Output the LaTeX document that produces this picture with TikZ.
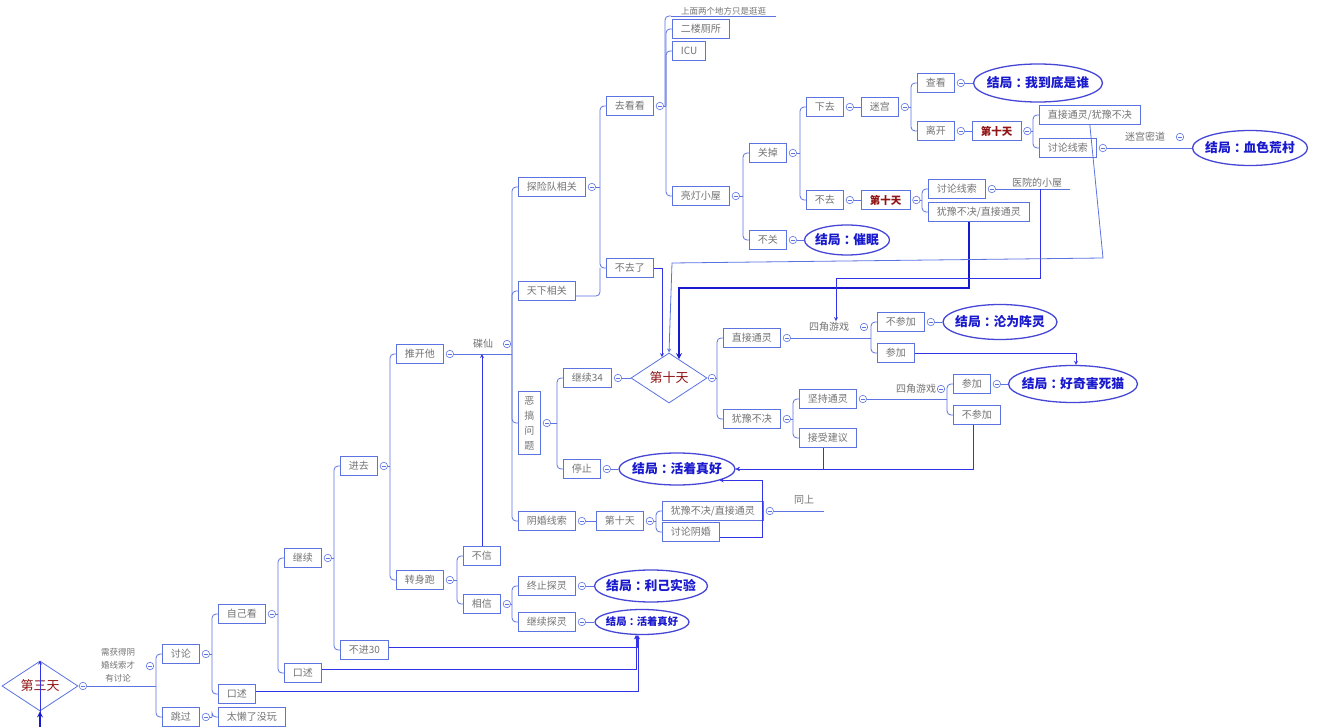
\documentclass[tikz,border=0pt]{standalone}
\usepackage{fontspec}
\setmainfont{Noto Sans CJK SC}
\usepackage{tikz}
\usetikzlibrary{positioning, shapes.geometric, arrows.meta}
\usepackage{xcolor}

\definecolor{lineblue}{RGB}{92,115,225}
\definecolor{txtgray}{RGB}{115,115,115}
\definecolor{dayred}{RGB}{145,20,20}
\definecolor{endblue}{RGB}{25,25,205}
\definecolor{relblue}{RGB}{50,50,230}

% spine from a fold circle to one child
\newcommand{\twig}[2]{%
  \path ([xshift=-6pt]#2) coordinate (sp);
  \draw[branch] (#1) -- (#1 -| sp);
  \draw[branch, rounded corners=4pt] (#1 -| sp) |- (#2);}
\newcommand{\nowidth}[1]{\makebox[0pt]{#1}}
\newcommand{\outcome}[1]{\makebox[0pt]{结局\kern.25em：\kern-.25em#1}}

\begin{document}
\begin{tikzpicture}[x=1pt, y=-1pt,
    topic/.style={draw=lineblue, line width=0.8pt, fill=white, text=txtgray, inner xsep=8.5pt, inner ysep=0pt, minimum height=19.5pt, font=\fontsize{10}{12}\selectfont},
    daybox/.style={topic, text=dayred, font=\bfseries\fontsize{10.5}{12}\selectfont},
    bigday/.style={diamond, draw=lineblue, line width=0.8pt, fill=white, text=dayred, inner sep=0pt, minimum width=76pt, minimum height=50pt, font=\fontsize{13}{15}\selectfont},
    ending/.style={ellipse, draw=endblue!80!white, line width=1.3pt, fill=white, text=endblue, inner sep=0pt, font=\bfseries\fontsize{12.8}{15}\selectfont},
    linetext/.style={text=txtgray, inner sep=1pt, font=\fontsize{10}{12}\selectfont},
    fold/.style={circle, draw=lineblue, line width=0.6pt, fill=white, minimum size=7.5pt, inner sep=0pt,
        path picture={\draw[lineblue, line width=0.6pt] ([xshift=1.8pt]path picture bounding box.west) -- ([xshift=-1.8pt]path picture bounding box.east);}},
    branch/.style={draw=lineblue, line width=0.8pt},
    link/.style={->, >=stealth, draw=relblue, line width=0.8pt},
    boldlink/.style={link, line width=1.6pt, draw=endblue}
]
    \useasboundingbox (0,0) rectangle (1320,727);
    \fill[white] (0,0) rectangle (1320,727);

    % Day three root
    \node[bigday] (d3) at (40,686) {\nowidth{第三天}};
    \node[fold, right=0.5pt of d3] (d3-f) {};
    \node[linetext, align=center, font=\fontsize{8.5}{13}\selectfont] (need) at (118,665) {需获得阴\\婚线索才\\有讨论};
    \node[fold] (need-f) at (150,666) {};
    \node[topic, anchor=west] (tl) at (162,654) {讨论};
    \node[topic, anchor=west] (tg) at (162,717) {跳过};
    \twig{d3-f.east}{tl.west}
    \twig{d3-f.east}{tg.west}
    \node[fold, right=2pt of tl] (tl-f) {};
    \node[fold, right=2pt of tg] (tg-f) {};
    \node[topic, anchor=west] (lazy) at (218,717) {太懒了没玩};
    \twig{tg-f.east}{lazy.west}

    % Discussion branch
    \node[topic, anchor=west] (zjk) at (218,614) {自己看};
    \node[topic, anchor=west] (ks1) at (218,694) {口述};
    \twig{tl-f.east}{zjk.west}
    \twig{tl-f.east}{ks1.west}
    \node[fold, right=2pt of zjk] (zjk-f) {};
    \node[topic, anchor=west] (jx) at (284,558) {继续};
    \node[topic, anchor=west] (ks2) at (284,673) {口述};
    \twig{zjk-f.east}{jx.west}
    \twig{zjk-f.east}{ks2.west}
    \node[fold, right=2pt of jx] (jx-f) {};
    \node[topic, anchor=west] (jq) at (340,466) {进去};
    \node[topic, anchor=west] (bj30) at (340,650) {不进30};
    \twig{jx-f.east}{jq.west}
    \twig{jx-f.east}{bj30.west}
    \node[fold, right=2pt of jq] (jq-f) {};
    \node[topic, anchor=west] (tkt) at (396,354) {推开他};
    \node[topic, anchor=west] (zsp) at (396,580) {转身跑};
    \twig{jq-f.east}{tkt.west}
    \twig{jq-f.east}{zsp.west}
    \node[fold, right=2pt of tkt] (tkt-f) {};
    \node[fold, right=2pt of zsp] (zsp-f) {};

    % Run away
    \node[topic, anchor=west] (bx) at (463,556) {不信};
    \node[topic, anchor=west] (xx) at (463,604) {相信};
    \twig{zsp-f.east}{bx.west}
    \twig{zsp-f.east}{xx.west}
    \node[fold, right=2pt of xx] (xx-f) {};
    \node[topic, anchor=west] (zz) at (518,586) {终止探灵};
    \node[topic, anchor=west] (jt) at (518,622) {继续探灵};
    \twig{xx-f.east}{zz.west}
    \twig{xx-f.east}{jt.west}
    \node[fold, right=2pt of zz] (zz-f) {};
    \node[fold, right=2pt of jt] (jt-f) {};
    \node[ending, minimum width=113pt, minimum height=32pt] (lj) at (651,586) {\outcome{利己实验}};
    \node[ending, minimum width=94pt, minimum height=25pt, font=\bfseries\fontsize{10.3}{12}\selectfont] (hz2) at (642,622) {\outcome{活着真好}};
    \draw[branch] (zz-f.east) -- (lj.west);
    \draw[branch] (jt-f.east) -- (hz2.west);

    % Ouija board
    \node[linetext] (dx) at (483,344) {碟仙};
    \node[fold] (dx-f) at (507,344) {};
    \node[topic, anchor=west] (txd) at (518,187) {探险队相关};
    \node[topic, anchor=west] (txx) at (518,291) {天下相关};
    \node[topic, anchor=west, align=center, minimum height=63pt, inner xsep=6pt, font=\fontsize{10}{15}\selectfont] (eg) at (518,423) {恶\\搞\\问\\题};
    \node[topic, anchor=west] (yhxs) at (518,521) {阴婚线索};
    \foreach \c in {txd,txx,eg,yhxs} {\twig{tkt-f.east}{\c.west}}
    \node[fold, right=2pt of txd] (txd-f) {};
    \node[fold, right=2pt of eg] (eg-f) {};
    \node[fold, right=2pt of yhxs] (yhxs-f) {};

    % Expedition team
    \node[topic, anchor=west] (qkk) at (606,106) {去看看};
    \node[topic, anchor=west] (bql) at (606,268) {不去了};
    \twig{txd-f.east}{qkk.west}
    \twig{txd-f.east}{bql.west}
    \draw[branch, rounded corners=4pt] ([yshift=-5pt]txx.east) -| ([xshift=-6pt]bql.west);
    \node[fold, right=2pt of qkk] (qkk-f) {};
    \node[linetext, anchor=south west, inner xsep=10pt, font=\fontsize{8.5}{10}\selectfont] (guang) at (671,16) {上面两个地方只是逛逛};
    \node[topic, anchor=west] (elcs) at (672,29) {二楼厕所};
    \node[topic, anchor=west] (icu) at (672,51) {ICU};
    \node[topic, anchor=west] (ldxw) at (672,196) {亮灯小屋};
    \twig{qkk-f.east}{guang.south west}
    \draw[branch] (guang.south west) -- (guang.south east);
    \foreach \c in {elcs,icu,ldxw} {\twig{qkk-f.east}{\c.west}}
    \node[fold, right=2pt of ldxw] (ldxw-f) {};

    % Lit cabin
    \node[topic, anchor=west] (gd) at (749,153) {关掉};
    \node[topic, anchor=west] (bg) at (749,240) {不关};
    \twig{ldxw-f.east}{gd.west}
    \twig{ldxw-f.east}{bg.west}
    \node[fold, right=2pt of gd] (gd-f) {};
    \node[fold, right=2pt of bg] (bg-f) {};
    \node[ending, minimum width=85pt, minimum height=30pt] (cm) at (847,240) {\outcome{催眠}};
    \draw[branch] (bg-f.east) -- (cm.west);
    \node[topic, anchor=west] (xq) at (806,107) {下去};
    \node[topic, anchor=west] (bq) at (806,200) {不去};
    \twig{gd-f.east}{xq.west}
    \twig{gd-f.east}{bq.west}
    \node[fold, right=2pt of xq] (xq-f) {};
    \node[fold, right=2pt of bq] (bq-f) {};
    \node[topic, anchor=west] (mg) at (861,107) {迷宫};
    \node[daybox, anchor=west] (d10b) at (861,200) {第十天};
    \draw[branch] (xq-f.east) -- (mg.west);
    \draw[branch] (bq-f.east) -- (d10b.west);
    \node[fold, right=2pt of mg] (mg-f) {};
    \node[fold, right=2pt of d10b] (d10b-f) {};

    % Maze
    \node[topic, anchor=west] (ck) at (917,83) {查看};
    \node[topic, anchor=west] (lk) at (917,131) {离开};
    \twig{mg-f.east}{ck.west}
    \twig{mg-f.east}{lk.west}
    \node[fold, right=2pt of ck] (ck-f) {};
    \node[fold, right=2pt of lk] (lk-f) {};
    \node[ending, minimum width=129pt, minimum height=38pt] (wdd) at (1038,83) {\outcome{我到底是谁}};
    \draw[branch] (ck-f.east) -- (wdd.west);
    \node[daybox, anchor=west] (d10a) at (972,131) {第十天};
    \draw[branch] (lk-f.east) -- (d10a.west);
    \node[fold, right=2pt of d10a] (d10a-f) {};
    \node[topic, anchor=west] (zj1) at (1039,115) {直接通灵/犹豫不决};
    \node[topic, anchor=west] (tx1) at (1039,148) {讨论线索};
    \twig{d10a-f.east}{zj1.west}
    \twig{d10a-f.east}{tx1.west}
    \node[fold, right=2pt of tx1] (tx1-f) {};
    \node[linetext] (mgmd) at (1145,137) {迷宫密道};
    \node[fold] (mgmd-f) at (1180,137) {};
    \node[ending, minimum width=115pt, minimum height=35pt] (hs) at (1250,148) {\outcome{血色荒村}};
    \draw[branch] (tx1-f.east) -- (hs.west);

    % Not going down
    \node[topic, anchor=west] (tx2) at (928,189) {讨论线索};
    \node[topic, anchor=west] (yd2) at (928,212) {犹豫不决/直接通灵};
    \twig{d10b-f.east}{tx2.west}
    \twig{d10b-f.east}{yd2.west}
    \node[fold, right=2pt of tx2] (tx2-f) {};
    \node[linetext, anchor=south west, inner xsep=0pt] (yy) at (1012,189) {医院的小屋};
    \draw[branch] (tx2-f.east) -- ([xshift=8pt]yy.south east);

    % Prank questions
    \node[topic, anchor=west] (jx34) at (563,378) {继续34};
    \node[topic, anchor=west] (tz) at (563,469) {停止};
    \twig{eg-f.east}{jx34.west}
    \twig{eg-f.east}{tz.west}
    \node[fold, right=2pt of jx34] (jx34-f) {};
    \node[fold, right=2pt of tz] (tz-f) {};
    \node[bigday] (d10) at (669,378) {\nowidth{第十天}};
    \draw[branch] (jx34-f.east) -- (d10.west);
    \node[fold, right=0.5pt of d10] (d10-f) {};
    \node[ending, minimum width=116pt, minimum height=32pt] (hz) at (677,469) {\outcome{活着真好}};
    \draw[branch] (tz-f.east) -- (hz.west);

    % Day ten
    \node[topic, anchor=west] (zjtl) at (723,338) {直接通灵};
    \node[topic, anchor=west] (ydbj) at (723,419) {犹豫不决};
    \twig{d10-f.east}{zjtl.west}
    \twig{d10-f.east}{ydbj.west}
    \node[fold, right=2pt of zjtl] (zjtl-f) {};
    \node[fold, right=2pt of ydbj] (ydbj-f) {};
    \node[linetext] (sj1) at (829,327) {四角游戏};
    \node[fold] (sj1-f) at (864,327) {};
    \node[topic, anchor=west] (bcj1) at (877,322) {不参加};
    \node[topic, anchor=west] (cj1) at (877,353) {参加};
    \twig{zjtl-f.east}{bcj1.west}
    \twig{zjtl-f.east}{cj1.west}
    \node[fold, right=2pt of bcj1] (bcj1-f) {};
    \node[ending, minimum width=114pt, minimum height=35pt] (lw) at (1000,322) {\outcome{沦为阵灵}};
    \draw[branch] (bcj1-f.east) -- (lw.west);
    \node[topic, anchor=west] (jctl) at (799,399) {坚持通灵};
    \node[topic, anchor=west] (jsjy) at (799,438) {接受建议};
    \twig{ydbj-f.east}{jctl.west}
    \twig{ydbj-f.east}{jsjy.west}
    \node[fold, right=2pt of jctl] (jctl-f) {};
    \node[linetext] (sj2) at (916,389) {四角游戏};
    \node[fold] (sj2-f) at (941,389) {};
    \node[topic, anchor=west] (cj2) at (953,384) {参加};
    \node[topic, anchor=west] (bcj2) at (953,415) {不参加};
    \twig{jctl-f.east}{cj2.west}
    \twig{jctl-f.east}{bcj2.west}
    \node[fold, right=2pt of cj2] (cj2-f) {};
    \node[ending, minimum width=129pt, minimum height=37pt] (hq) at (1073,384) {\outcome{好奇害死猫}};
    \draw[branch] (cj2-f.east) -- (hq.west);

    % Ghost marriage clue
    \node[topic, anchor=west] (d10c) at (596,521) {第十天};
    \draw[branch] (yhxs-f.east) -- (d10c.west);
    \node[fold, right=2pt of d10c] (d10c-f) {};
    \node[topic, anchor=west] (yd3) at (662,511) {犹豫不决/直接通灵};
    \node[topic, anchor=west] (tlyh) at (662,532) {讨论阴婚};
    \twig{d10c-f.east}{yd3.west}
    \twig{d10c-f.east}{tlyh.west}
    \node[fold, right=2pt of yd3] (yd3-f) {};
    \node[linetext] (tsh) at (804,500) {同上};
    \draw[branch] (yd3-f.east) -- ([xshift=9pt]yd3-f.east -| tsh.east);

    % Cross links
    \coordinate (prev) at (40,727);
    \draw[link] (prev) -- (d3.north);
    \draw[boldlink] (prev) -- (d3.south);
    \draw[link] (bx.north) -- (bx.north |- tkt.east);
    \draw[link] ([yshift=3pt]bj30.east) -| ([xshift=-5pt]hz2.south);
    \draw[link] ([yshift=4pt]ks2.east) -| ([xshift=-6pt]hz2.south);
    \draw[link] ([yshift=3pt]ks1.east) -| ([xshift=-4pt]hz2.south);
    \draw[boldlink] ([xshift=-10pt]yd2.south) |- (679,288) -- ([xshift=10pt,yshift=-6.5pt]d10.north);
    \draw[link] ([xshift=3pt]yy.south) -- ++(0,89) -| ([xshift=7pt]sj1.north);
    \draw[link, draw=lineblue] (zj1.south) -- (1103,258) -- (672,263) -- (d10.north);
    \draw[link] (bql.east) -| ([xshift=-7pt,yshift=-4.5pt]d10.north);
    \draw[link] (cj1.east) -| ([xshift=3pt]hq.north);
    \draw[link] ([xshift=-5pt]jsjy.south) |- (hz.east);
    \draw[link] ([xshift=-4pt]bcj2.south) |- (hz.east);
    \draw[link] ([yshift=-5pt]tlyh.east) -- ++(43,0) |- (hz.-15);
\end{tikzpicture}
\end{document}
